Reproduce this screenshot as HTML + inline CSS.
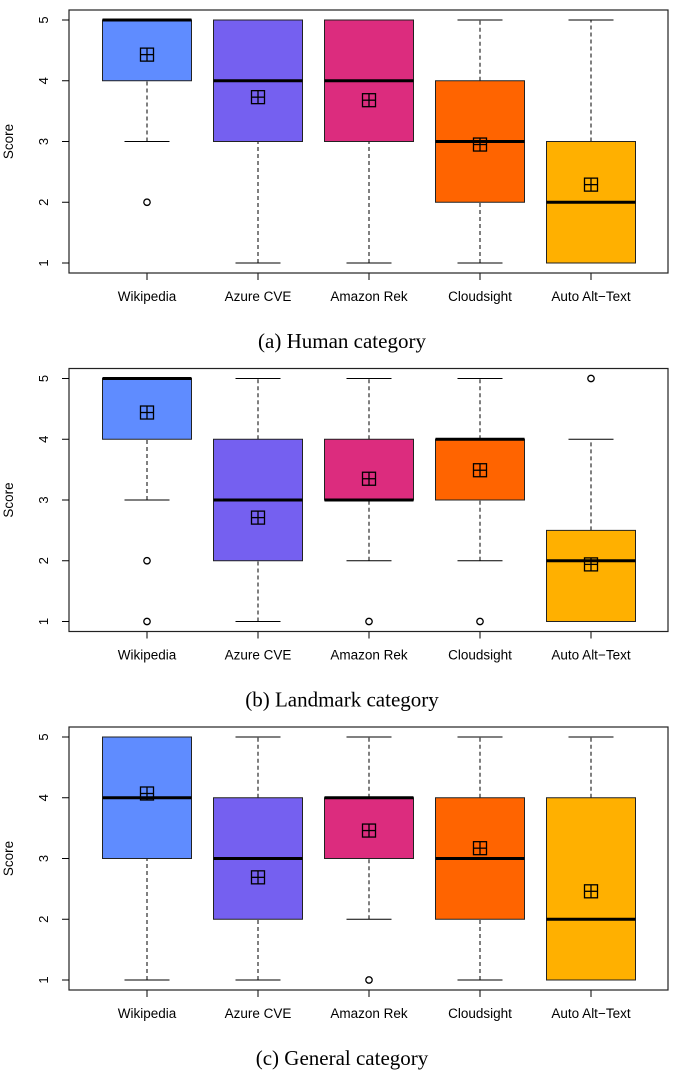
<!DOCTYPE html>
<html><head><meta charset="utf-8"><style>
body{margin:0;background:#fff}
svg{display:block}
text{font-family:"Liberation Sans",sans-serif}
.cap{font-family:"Liberation Serif",serif;font-size:21px}
</style></head><body>
<svg id="chart" width="685" height="1071" viewBox="0 0 685 1071"></svg>
<script>
const categories=["Wikipedia","Azure CVE","Amazon Rek","Cloudsight","Auto Alt\u2212Text"];
const colors=["#5f8cff","#7560f0","#dc2c7e","#ff6400","#ffb000"];
const panelTitles=["(a) Human category","(b) Landmark category","(c) General category"];
const yTicks=[1,2,3,4,5];
// each row: [lowWhisker, q1, median, q3, highWhisker]
const statsHuman=[[3,4,5,5,5],[1,3,4,5,5],[1,3,4,5,5],[1,2,3,4,5],[1,1,2,3,5]];
const meansHuman=[4.43,3.73,3.68,2.95,2.29];
const outliersHuman=[[2],[],[],[],[]];
const statsLandmark=[[3,4,5,5,5],[1,2,3,4,5],[2,3,3,4,5],[2,3,4,4,5],[1,1,2,2.5,4]];
const meansLandmark=[4.44,2.71,3.35,3.49,1.94];
const outliersLandmark=[[2,1],[],[1],[1],[5]];
const statsGeneral=[[1,3,4,5,5],[1,2,3,4,5],[2,3,4,4,5],[1,2,3,4,5],[1,1,2,4,5]];
const meansGeneral=[4.07,2.69,3.46,3.17,2.46];
const outliersGeneral=[[],[],[1],[],[]];

const panels=[[statsHuman,meansHuman,outliersHuman],[statsLandmark,meansLandmark,outliersLandmark],[statsGeneral,meansGeneral,outliersGeneral]];
const NS="http://www.w3.org/2000/svg";
const svg=document.getElementById('chart');
function mk(tag,attrs,parent){const e=document.createElementNS(NS,tag);for(const k in attrs)e.setAttribute(k,attrs[k]);(parent||svg).appendChild(e);return e;}
const L=69,R=668,offsets=[0,358.5,717];
panels.forEach((p,pi)=>{
  const off=offsets[pi];
  const top=10+off,bot=273+off;
  const y=v=>263+off-(v-1)*(243/4);
  const x=i=>147+i*111;
  const g=mk('g',{});
  
  
  const [stats,means,outs]=p;
  stats.forEach((s,i)=>{
    const cx=x(i),hw=44.5,cw=22.5;
    const bg=mk('g',{},g);
    
    
    mk('line',{x1:cx,x2:cx,y1:y(s[0]),y2:y(s[1]),stroke:'#000','stroke-width':1,'stroke-dasharray':'4,3'},bg);
    mk('line',{x1:cx,x2:cx,y1:y(s[3]),y2:y(s[4]),stroke:'#000','stroke-width':1,'stroke-dasharray':'4,3'},bg);
    mk('line',{x1:cx-cw,x2:cx+cw,y1:y(s[0]),y2:y(s[0]),stroke:'#000'},bg);
    mk('line',{x1:cx-cw,x2:cx+cw,y1:y(s[4]),y2:y(s[4]),stroke:'#000'},bg);
    mk('rect',{x:cx-hw,y:y(s[3]),width:2*hw,height:y(s[1])-y(s[3]),fill:colors[i],stroke:'#222','stroke-width':1},bg);
    mk('line',{x1:cx-hw,x2:cx+hw,y1:y(s[2]),y2:y(s[2]),stroke:'#000','stroke-width':3},bg);
    const my=y(means[i]);
    mk('rect',{x:cx-6.5,y:my-6.5,width:13,height:13,fill:'none',stroke:'#000','stroke-width':1.3},bg);
    mk('line',{x1:cx-6.5,x2:cx+6.5,y1:my,y2:my,stroke:'#000','stroke-width':1.3},bg);
    mk('line',{x1:cx,x2:cx,y1:my-6.5,y2:my+6.5,stroke:'#000','stroke-width':1.3},bg);
    outs[i].forEach(o=>mk('circle',{cx:cx,cy:y(o),r:3.2,fill:'none',stroke:'#000','stroke-width':1.3},bg));
    mk('line',{x1:cx,x2:cx,y1:bot,y2:bot+7,stroke:'#000'},g);
    const t=mk('text',{x:cx,y:bot+28,'text-anchor':'middle','font-size':13.5},g);t.textContent=categories[i];
  });
  mk('rect',{x:L,y:top,width:R-L,height:bot-top,fill:'none',stroke:'#222','stroke-width':1.2},g);
  yTicks.forEach(v=>{
    mk('line',{x1:L-7,x2:L,y1:y(v),y2:y(v),stroke:'#000'},g);
    const t=mk('text',{x:0,y:0,'text-anchor':'middle','font-size':13,transform:`translate(48,${y(v)}) rotate(-90)`},g);t.textContent=v;
  });
  const yl=mk('text',{'text-anchor':'middle','font-size':13.5,transform:`translate(13,${(top+bot)/2}) rotate(-90)`},g);yl.textContent='Score';
  const c=mk('text',{x:342,y:348+off,'text-anchor':'middle','class':'cap'},g);c.textContent=panelTitles[pi];
});
</script>
</body></html>
